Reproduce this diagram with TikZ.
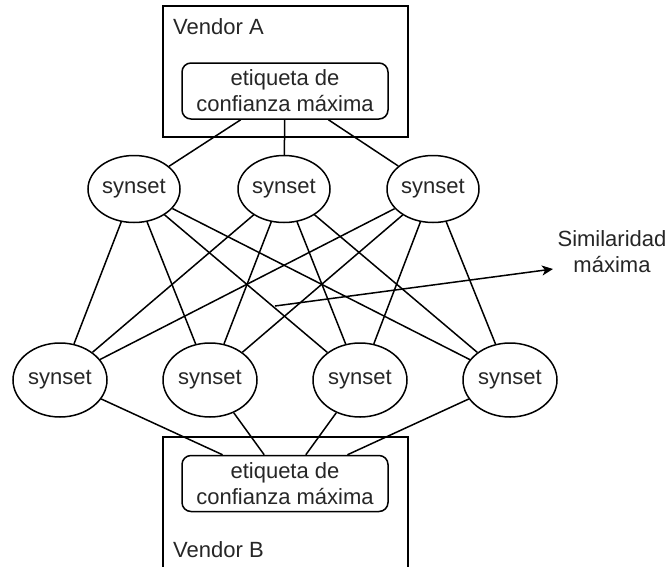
\documentclass[tikz,border=0pt]{standalone}
\usepackage{fontspec}
\setmainfont{Liberation Sans}
\usetikzlibrary{shapes.geometric,arrows.meta}

\tikzset{
  every node/.style={font=\fontsize{22}{26}\selectfont, text=black!85},
  link/.style={line width=1.5pt},
  vendorbox/.style={draw, line width=1.5pt, minimum width=245pt, inner sep=0pt},
  labelbox/.style={draw, line width=1.5pt, rounded corners=9pt, minimum width=206pt,
    minimum height=56pt, inner sep=0pt, align=center},
  synsettop/.style={draw, ellipse, line width=1.5pt, minimum width=92pt,
    minimum height=67pt, inner sep=0pt},
  synsetbot/.style={draw, ellipse, line width=1.5pt, minimum width=94pt,
    minimum height=74pt, inner sep=0pt},
}

\begin{document}
\begin{tikzpicture}[x=1pt, y=-1pt]
  \clip (0,0) rectangle (667,566);
  \fill[white] (0,0) rectangle (667,566);

  % vendor containers
  \node[vendorbox, minimum height=131pt] (vendA) at (285.5,71.5) {};
  \node[vendorbox, minimum height=160pt] (vendB) at (285.5,517) {};
  \node[anchor=west, inner sep=0pt] (vendAlabel) at (173,27) {Vendor A};
  \node[anchor=west, inner sep=0pt] (vendBlabel) at (173,550) {Vendor B};

  % highest-confidence labels
  \node[labelbox] (labA) at (285,91) {etiqueta de\\confianza máxima};
  \node[labelbox] (labB) at (285,483.5) {etiqueta de\\confianza máxima};

  % synsets of vendor A
  \node[synsettop] (t1) at (134,189) {synset};
  \node[synsettop] (t2) at (284,189) {synset};
  \node[synsettop] (t3) at (433,189) {synset};

  % synsets of vendor B
  \node[synsetbot] (b1) at (60,380) {synset};
  \node[synsetbot] (b2) at (210,380) {synset};
  \node[synsetbot] (b3) at (360,380) {synset};
  \node[synsetbot] (b4) at (510,380) {synset};

  % label to synset links
  \foreach \t in {t1,t2,t3} \draw[link] (labA) -- (\t);
  \foreach \b in {b1,b2,b3,b4} \draw[link] (labB) -- (\b);

  % pairwise synset comparisons
  \foreach \t in {t1,t2,t3}
    \foreach \b in {b1,b2,b3,b4}
      \draw[link] (\t) -- (\b);

  % similarity annotation
  \node[align=center, inner sep=0pt] (simlabel) at (612,252) {Similaridad\\máxima};
  \coordinate (simstart) at (275,306);
  \coordinate (simtip) at (553,269);
  \draw[link, -{Stealth[length=11pt, width=10pt, inset=3pt]}] (simstart) -- (simtip);
\end{tikzpicture}
\end{document}
